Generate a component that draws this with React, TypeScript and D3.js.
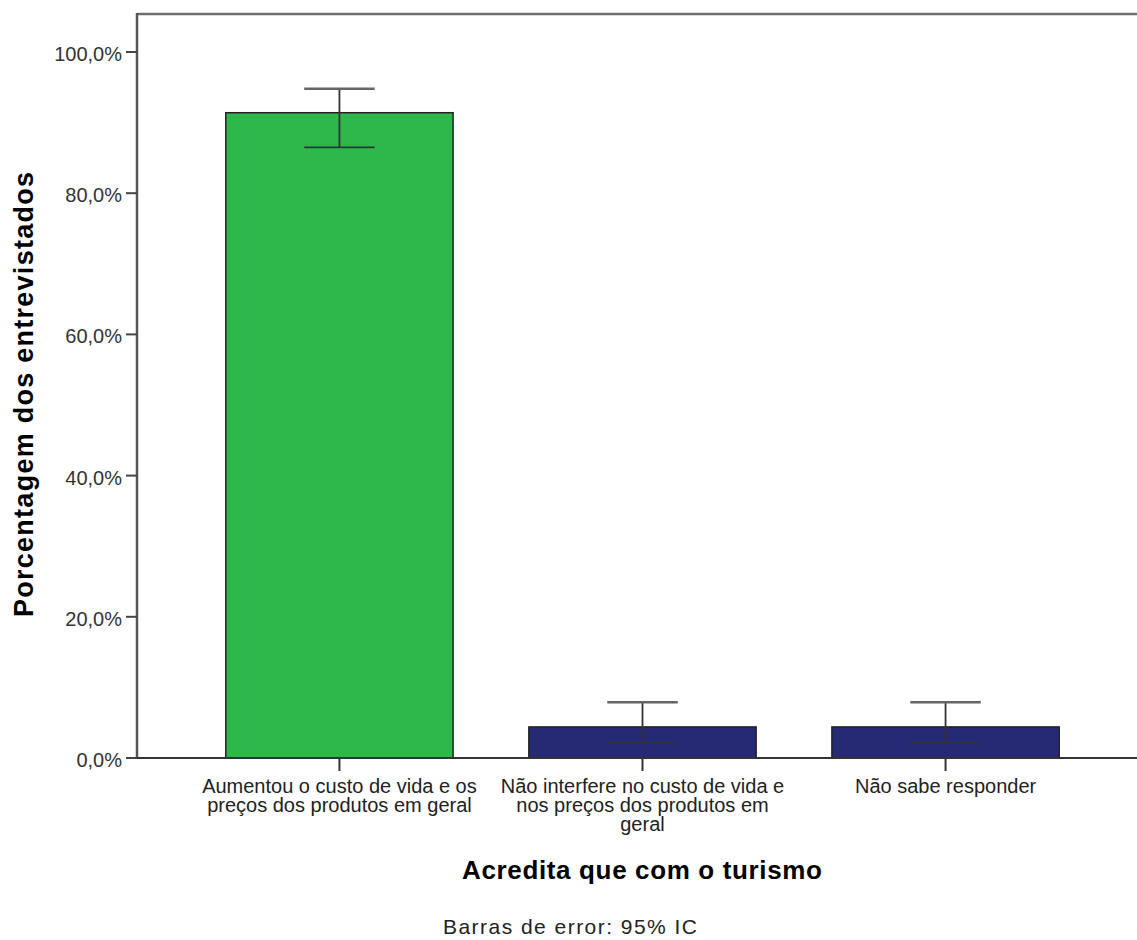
import React from "react";
import * as d3 from "d3";

const categories: string[][] = [
  ["Aumentou o custo de vida e os", "preços dos produtos em geral"],
  ["Não interfere no custo de vida e", "nos preços dos produtos em", "geral"],
  ["Não sabe responder"],
];
const values: number[] = [91.4, 4.4, 4.4];
const ciLower: number[] = [86.5, 2.1, 2.1];
const ciUpper: number[] = [94.8, 7.9, 7.9];
const barColors: string[] = ["#2fb84a", "#262a74"];
const yTicks: number[] = [0, 20, 40, 60, 80, 100];

const W = 1137;
const H = 940;
const left = 137;
const right = 1148;
const top = 14;
const bottom = 758;

export default function App() {
  const ids = categories.map((_, i) => String(i));
  const x = d3
    .scaleBand<string>()
    .domain(ids)
    .range([left, right])
    .paddingInner(0.25)
    .paddingOuter(0.293);
  const y = d3.scaleLinear().domain([0, 100]).range([bottom, 52]);
  const fmt = (v: number) => d3.format(".1f")(v).replace(".", ",") + "%";
  const bw = x.bandwidth();
  const capW = bw * 0.31;
  const font = "'Liberation Sans', Arial, sans-serif";

  return (
    <svg
      width={W}
      height={H}
      style={{ position: "absolute", left: 0, top: 0, background: "#fff" }}
      fontFamily={font}
    >
      {/* frame */}
      <line x1={left} x2={W} y1={top} y2={top} stroke="#6e6e6e" strokeWidth={2.5} />
      <line x1={left} x2={left} y1={top - 1} y2={bottom} stroke="#555" strokeWidth={2.5} />

      {/* y ticks */}
      {yTicks.map((t) => (
        <g key={t}>
          <line x1={left - 11} x2={left} y1={y(t)} y2={y(t)} stroke="#444" strokeWidth={2} />
          <text x={122} y={y(t) + 9} textAnchor="end" fontSize={20} fill="#333">
            {fmt(t)}
          </text>
        </g>
      ))}

      {/* bars */}
      {values.map((v, i) => (
        <rect
          key={i}
          x={x(ids[i])!}
          y={y(v)}
          width={bw}
          height={y(0) - y(v)}
          fill={i === 0 ? barColors[0] : barColors[1]}
          stroke="#222"
          strokeWidth={1.5}
        />
      ))}

      {/* x axis */}
      <line x1={left} x2={W} y1={bottom} y2={bottom} stroke="#333" strokeWidth={2} />
      {ids.map((id, i) => {
        const cx = x(id)! + bw / 2;
        return (
          <g key={id}>
            <line x1={cx} x2={cx} y1={bottom} y2={bottom + 13} stroke="#333" strokeWidth={2} />
            {categories[i].map((line, k) => (
              <text
                key={k}
                x={cx}
                y={793 + k * 19}
                textAnchor="middle"
                fontSize={20}
                fill="#222"
              >
                {line}
              </text>
            ))}
          </g>
        );
      })}

      {/* error bars */}
      {values.map((_, i) => {
        const cx = x(ids[i])! + bw / 2;
        return (
          <g key={i} stroke="#333" strokeWidth={1.8}>
            <line x1={cx} x2={cx} y1={y(ciUpper[i])} y2={y(ciLower[i])} />
            <line x1={cx - capW / 2} x2={cx + capW / 2} y1={y(ciUpper[i])} y2={y(ciUpper[i])} stroke="#666" strokeWidth={2.5} />
            <line x1={cx - capW / 2} x2={cx + capW / 2} y1={y(ciLower[i])} y2={y(ciLower[i])} />
          </g>
        );
      })}

      {/* y title */}
      <text
        transform={`translate(33,${394.5}) rotate(-90)`}
        textAnchor="middle"
        fontSize={27}
        fontWeight="bold"
        fill="#000"
        textLength={445}
        lengthAdjust="spacing"
      >
        Porcentagem dos entrevistados
      </text>

      {/* x title */}
      <text
        x={642}
        y={879}
        textAnchor="middle"
        fontSize={26}
        fontWeight="bold"
        fill="#000"
        textLength={360}
        lengthAdjust="spacing"
      >
        Acredita que com o turismo
      </text>

      {/* footnote */}
      <text x={570} y={934} textAnchor="middle" fontSize={21} fill="#222" textLength={254} lengthAdjust="spacing">
        Barras de error: 95% IC
      </text>
    </svg>
  );
}
